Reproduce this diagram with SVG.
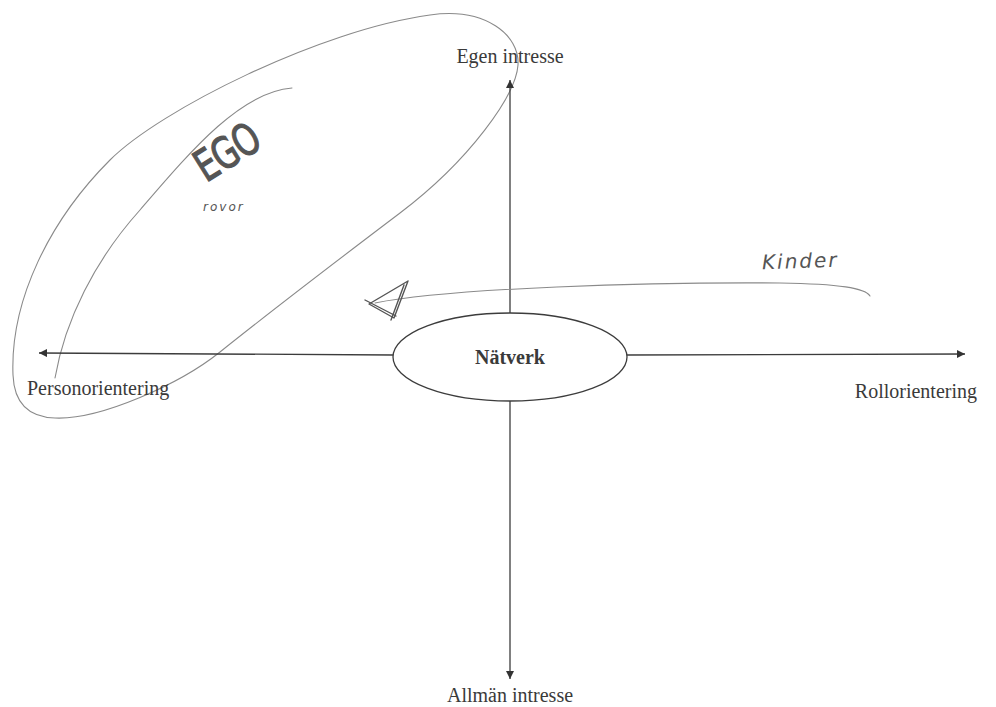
<svg xmlns="http://www.w3.org/2000/svg" width="996" height="707" viewBox="0 0 996 707">
<defs>
<style>
.axis{stroke:#3c3c3c;stroke-width:1.3;fill:none}
.lbl{font-family:"Liberation Serif","Times New Roman",serif;font-size:20px;fill:#3a3a3a}
.hand{stroke:#8a8a8a;stroke-width:1.1;fill:none;stroke-linecap:round;stroke-linejoin:round}
.pen{stroke:#555;stroke-width:1.4;fill:none;stroke-linecap:round;stroke-linejoin:round}
.htext{font-family:"DejaVu Sans","Liberation Sans",sans-serif;fill:#555}
</style>
<marker id="arr" viewBox="0 0 10 10" refX="10" refY="5" markerWidth="8" markerHeight="8" markerUnits="userSpaceOnUse" orient="auto">
<path d="M0,0 L10,5 L0,10 Z" fill="#333"/>
</marker>
</defs>
<rect width="996" height="707" fill="#ffffff"/>

<g id="ego-loop">
<path class="hand" d="M13,375 C10,300 50,220 110,160 C160,110 320,30 430,15 C485,7 520,35 518,65 C516,95 470,160 400,213 C330,266 260,320 220,352 C180,384 100,420 55,418 C25,417 14,400 13,375 Z"/>
<path class="hand" d="M55,378 C65,320 95,260 140,210 C190,152 240,92 292,88"/>
</g>

<g id="connectors">
<line class="axis" x1="510" y1="313" x2="510" y2="80" marker-end="url(#arr)"/>
<line class="axis" x1="510" y1="401" x2="510" y2="679" marker-end="url(#arr)"/>
<line class="axis" x1="393" y1="355" x2="39" y2="353" marker-end="url(#arr)"/>
<line class="axis" x1="627" y1="355" x2="965" y2="354" marker-end="url(#arr)"/>
<path class="hand" d="M375,303 C450,288 650,282 780,283 C840,284 865,288 870,296"/>
</g>

<g id="natverk">
<ellipse cx="510" cy="357" rx="117" ry="44" fill="#ffffff" stroke="#3c3c3c" stroke-width="1.3"/>
<text class="lbl" x="510" y="364" text-anchor="middle" font-weight="bold" font-size="21">Nätverk</text>
</g>

<g id="label-egen">
<text class="lbl" x="510" y="63" text-anchor="middle">Egen intresse</text>
</g>
<g id="label-allman">
<text class="lbl" x="510" y="702" text-anchor="middle">Allmän intresse</text>
</g>
<g id="label-person">
<text class="lbl" x="27" y="395">Personorientering</text>
</g>
<g id="label-roll">
<text class="lbl" x="977" y="398" text-anchor="end">Rollorientering</text>
</g>

<g id="ego">
<text class="htext" transform="translate(206,183) rotate(-32) scale(0.85,1.15)" font-size="38" fill="none" stroke="#555" stroke-width="1" letter-spacing="-1">EGO</text>
<text class="htext" x="203" y="211" font-size="12" font-style="italic" letter-spacing="2">rovor</text>
</g>

<g id="kinder">
<text class="htext" x="762" y="268" font-size="20" font-style="italic" letter-spacing="2" transform="rotate(-2 800 262)">Kinder</text>
<path class="pen" d="M408,281 L369,304 L394,318 L408,281 M404,285 L391,320 M365,300 L396,316"/>
</g>
</svg>
